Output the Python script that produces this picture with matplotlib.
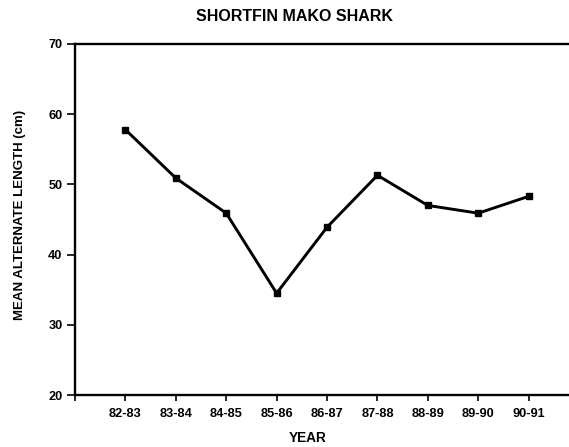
import matplotlib
matplotlib.use("Agg")
import matplotlib.pyplot as plt

plt.rcParams["font.family"] = ["Liberation Sans", "DejaVu Sans"]
plt.rcParams["font.weight"] = "bold"

seasons = ["82-83", "83-84", "84-85", "85-86", "86-87", "87-88", "88-89", "89-90", "90-91"]
mean_length = [57.8, 50.9, 45.9, 34.5, 43.9, 51.3, 47.0, 45.9, 48.3]
y_ticks = [20, 30, 40, 50, 60, 70]

fig = plt.figure(figsize=(5.69, 4.47), dpi=100)
ax = fig.add_axes([0.1318, 0.1163, 0.8682, 0.7853])

x = list(range(1, len(seasons) + 1))
ax.plot(x, mean_length, color="black", linewidth=2.1, marker="s",
        markersize=5, markerfacecolor="black", markeredgecolor="black")

ax.set_xlim(0, 9.8)
ax.set_ylim(20, 70)
ax.set_xticks([0] + x)
ax.set_xticklabels([""] + seasons)
ax.set_yticks(y_ticks)
ax.set_yticklabels([str(v) for v in y_ticks])

for side in ["left", "bottom", "top"]:
    ax.spines[side].set_linewidth(1.7)
ax.spines["right"].set_visible(False)

ax.tick_params(axis="both", direction="out", width=1.2, colors="black", labelsize=9.2)
ax.tick_params(axis="y", length=6, pad=3)
ax.tick_params(axis="x", length=4.5, pad=5)
for lbl in ax.get_xticklabels() + ax.get_yticklabels():
    lbl.set_fontweight("bold")

fig.text(0.517, 0.962, "SHORTFIN MAKO SHARK", ha="center", va="center",
         fontsize=11.5, fontweight="bold")
fig.text(0.541, 0.021, "YEAR", ha="center", va="center",
         fontsize=9.8, fontweight="bold")
fig.text(0.036, 0.519, "MEAN ALTERNATE LENGTH (cm)", ha="center", va="center",
         rotation=90, fontsize=9.5, fontweight="bold")

fig.savefig("out.png", dpi=100, facecolor="white")
